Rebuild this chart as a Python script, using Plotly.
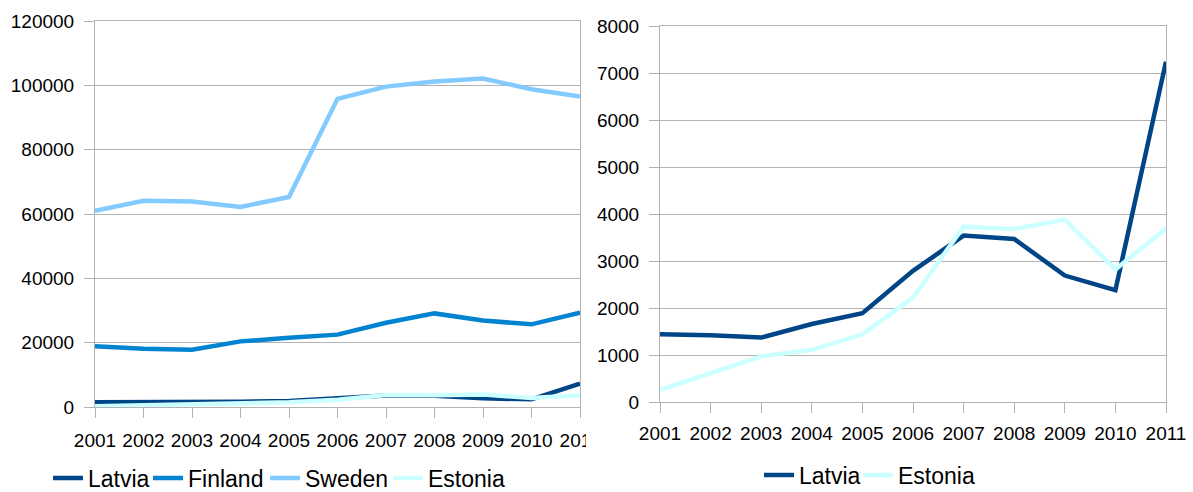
import plotly.graph_objects as go

years = [2001, 2002, 2003, 2004, 2005, 2006, 2007, 2008, 2009, 2010, 2011]
year_labels = [str(y) for y in years]

latvia = [1440, 1420, 1370, 1660, 1890, 2790, 3540, 3470, 2690, 2380, 7240]
finland = [18900, 18100, 17800, 20400, 21500, 22500, 26200, 29100, 26900, 25700, 29300]
sweden = [61000, 64100, 63900, 62200, 65300, 95800, 99600, 101200, 102100, 98800, 96500]
estonia = [260, 610, 970, 1110, 1440, 2220, 3730, 3680, 3880, 2820, 3690]

left_ticks = [0, 20000, 40000, 60000, 80000, 100000, 120000]
right_ticks = [0, 1000, 2000, 3000, 4000, 5000, 6000, 7000, 8000]

colors = {"Latvia": "#004586", "Finland": "#0084d1", "Sweden": "#83caff", "Estonia": "#ccffff"}
left_legend_widths = {"Latvia": 55, "Finland": 72, "Sweden": 78, "Estonia": 85}
right_legend_widths = {"Latvia": 54, "Estonia": 85}

W, H = 1193, 492
FONT = "Liberation Sans, Arial, sans-serif"
GRID = "#b3b3b3"

fig = go.Figure()
for name, vals in [("Latvia", latvia), ("Finland", finland), ("Sweden", sweden), ("Estonia", estonia)]:
    fig.add_trace(go.Scatter(x=years, y=vals, name=name, mode="lines",
                             line=dict(color=colors[name], width=4.5),
                             legendwidth=left_legend_widths[name],
                             xaxis="x", yaxis="y", legend="legend"))
for name, vals in [("Latvia", latvia), ("Estonia", estonia)]:
    fig.add_trace(go.Scatter(x=years, y=vals, name=name, mode="lines",
                             line=dict(color=colors[name], width=4.5),
                             legendwidth=right_legend_widths[name],
                             xaxis="x2", yaxis="y2", legend="legend2"))

def px_x(p):
    return p / W

def px_y(p):
    return 1 - p / H

xcommon = dict(tickmode="array", tickvals=years, ticktext=year_labels,
               range=[2001, 2011], showgrid=False, showline=True, linecolor=GRID,
               linewidth=1, mirror=True, ticks="outside", ticklen=10, tickcolor=GRID,
               tickfont=dict(family=FONT, size=19, color="#000000"),
               zeroline=False, fixedrange=True, automargin=False)
ycommon = dict(showgrid=True, gridcolor=GRID, gridwidth=1, showline=True, linecolor=GRID,
               linewidth=1, mirror=True, ticks="outside", ticklen=10, tickcolor=GRID,
               tickfont=dict(family=FONT, size=19, color="#000000"),
               ticklabelstandoff=6, zeroline=False, fixedrange=True, automargin=False)

legend_common = dict(orientation="h", xanchor="left", yanchor="middle",
                     font=dict(family=FONT, size=23, color="#000000"), bgcolor="rgba(0,0,0,0)",
                     borderwidth=0, itemclick=False, itemdoubleclick=False)

fig.update_layout(
    width=W, height=H,
    margin=dict(l=0, r=0, t=0, b=0, autoexpand=False),
    paper_bgcolor="white", plot_bgcolor="white",
    font=dict(family=FONT, color="#000000"),
    xaxis=dict(domain=[px_x(95), px_x(580)], anchor="y", ticklabelstandoff=6, **xcommon),
    yaxis=dict(domain=[px_y(407), px_y(21)], anchor="x", range=[0, 120000],
               tickmode="array", tickvals=left_ticks, ticktext=[str(t) for t in left_ticks], **ycommon),
    xaxis2=dict(domain=[px_x(660), px_x(1166)], anchor="y2", ticklabelstandoff=4, **xcommon),
    yaxis2=dict(domain=[px_y(402), px_y(26)], anchor="x2", range=[0, 8000],
                tickmode="array", tickvals=right_ticks, ticktext=[str(t) for t in right_ticks], **ycommon),
    legend=dict(x=px_x(48), y=px_y(478), **legend_common),
    legend2=dict(x=px_x(759), y=px_y(475), **legend_common),
    showlegend=True,
    shapes=[dict(type="rect", xref="paper", yref="paper", layer="above",
                 x0=px_x(586), x1=px_x(612), y0=px_y(460), y1=px_y(418),
                 fillcolor="white", line=dict(width=0))],
)

fig.write_html("out.html")
